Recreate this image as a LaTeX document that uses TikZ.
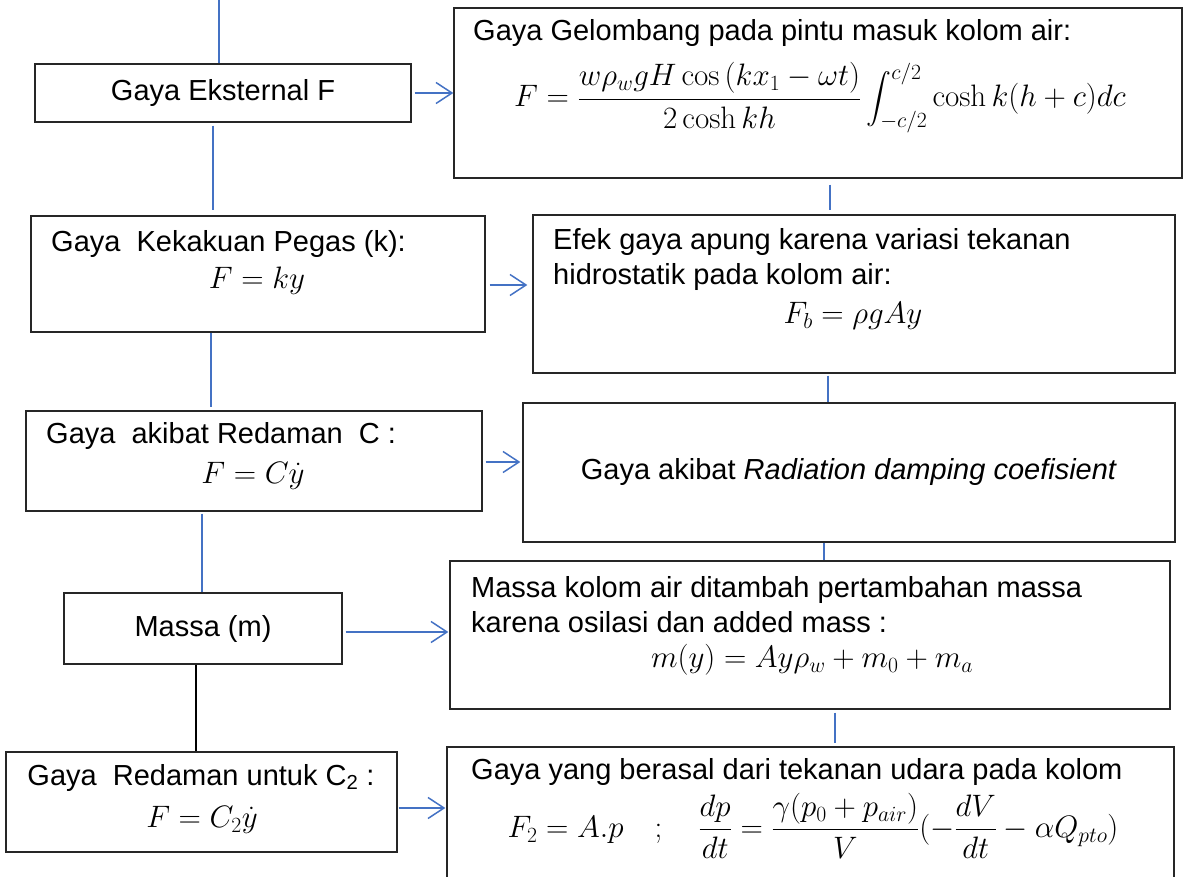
\RequirePackage{fix-cm}
\documentclass[tikz,border=0pt]{standalone}
\usepackage{amsmath}
\usepackage[no-math]{fontspec}
\setmainfont{Liberation Sans}
\usepackage{tikz}
\usetikzlibrary{arrows.meta}
\definecolor{garis}{RGB}{68,114,196}

\begin{document}
\begin{tikzpicture}[x=1pt,y=-1pt,
  every node/.style={inner sep=0pt,font=\fontsize{29}{35}\selectfont},
  rumus/.style={font=\fontsize{31}{37}\selectfont},
  kotak/.style={draw=black!85,line width=1.3pt},
  hub/.style={garis,line width=1.5pt},
  panah/.style={hub,-{Straight Barb[length=16pt,width=21pt]}}]
  \useasboundingbox (0,0) rectangle (1184,877);
  \clip (0,0) rectangle (1184,877);
  \node[kotak,minimum width=376pt,minimum height=58pt] (eks) at (223,93) {Gaya Eksternal F};
  \node[kotak,minimum width=728pt,minimum height=170pt] (gel) at (818,93) {};
  \node[anchor=west] (gelT) at (473,33) {Gaya Gelombang pada pintu masuk kolom air:};
  \node[rumus] (gelF) at (820,98) {$\displaystyle F=\frac{w\rho_w gH\cos{(kx_1-\omega t)}}{2\cosh kh}\int_{-c/2}^{c/2}\cosh k(h+c)dc$};
  \node[kotak,minimum width=454pt,minimum height=116pt] (pegas) at (258,274) {};
  \node[anchor=west] (pegasT) at (51,244) {Gaya\ \ Kekakuan Pegas (k):};
  \node[rumus] (pegasF) at (257,281) {$F=ky$};
  \node[kotak,minimum width=642pt,minimum height=158pt] (apung) at (854,294) {};
  \node[anchor=west,align=left] (apungT) at (553,260) {Efek gaya apung karena variasi tekanan\\hidrostatik pada kolom air:};
  \node[rumus] (apungF) at (853,316) {$F_b=\rho gAy$};
  \node[kotak,minimum width=456pt,minimum height=100pt] (redam) at (254,461) {};
  \node[anchor=west] (redamT) at (46,436) {Gaya\ \ akibat Redaman\ \ C :};
  \node[rumus] (redamF) at (253,476) {$F=C\dot{y}$};
  \node[kotak,minimum width=652pt,minimum height=139pt] (rad) at (849,472.5) {Gaya akibat \textit{Radiation damping coefisient}};
  \node[kotak,minimum width=278pt,minimum height=71pt] (massa) at (203,628.5) {Massa (m)};
  \node[kotak,minimum width=720pt,minimum height=148pt] (kolom) at (810,635) {};
  \node[anchor=west,align=left] (kolomT) at (471,604.5) {Massa kolom air ditambah pertambahan massa\\karena osilasi dan added mass :};
  \node[rumus] (kolomF) at (812,660) {$m(y)=Ay\rho_w+m_0+m_a$};
  \node[kotak,minimum width=391pt,minimum height=100pt] (redam2) at (201.5,802) {};
  \node (redam2T) at (201,778) {Gaya\ \ Redaman untuk C\textsubscript{2} :};
  \node[rumus] (redam2F) at (202,820) {$F=C_2\dot{y}$};
  \node[kotak,minimum width=727pt,minimum height=153pt] (udara) at (810.5,823.5) {};
  \node[anchor=west] (udaraT) at (471,772) {Gaya yang berasal dari tekanan udara pada kolom};
  \node[rumus] (udaraF) at (813,826) {$\displaystyle F_2=A.p\quad;\quad\frac{dp}{dt}=\frac{\gamma(p_0+p_{air})}{V}(-\frac{dV}{dt}-\alpha Q_{pto})$};
  \coordinate (awal) at (219,0);
  \draw[hub] (awal) -- (awal |- eks.north);
  \draw[hub] ([xshift=-10pt,yshift=-3pt]eks.south) -- ([xshift=-45pt,yshift=5pt]pegas.north);
  \draw[hub] ([xshift=-47pt]pegas.south) -- ([xshift=-43pt,yshift=3pt]redam.north);
  \draw[hub] ([xshift=-52pt,yshift=-2pt]redam.south) -- ([xshift=-1pt]massa.north);
  \draw[line width=1.5pt] ([xshift=-7pt]massa.south) -- ([xshift=-5.5pt]redam2.north);
  \draw[hub] ([xshift=12pt,yshift=-6pt]gel.south) -- ([xshift=-24pt,yshift=4pt]apung.north);
  \draw[hub] ([xshift=-26pt,yshift=-2pt]apung.south) -- ([xshift=-21pt]rad.north);
  \draw[hub] ([xshift=-25pt]rad.south) -- ([xshift=14pt]kolom.north);
  \draw[hub] ([xshift=25pt,yshift=-3pt]kolom.south) -- ([xshift=24.5pt,yshift=3pt]udara.north);
  \draw[panah] ([xshift=3pt]eks.east) -- (gel.west);
  \draw[panah] ([xshift=4pt,yshift=-11pt]pegas.east) -- ([xshift=-5pt,yshift=9pt]apung.west);
  \draw[panah] ([xshift=3pt,yshift=-1pt]redam.east) -- ([xshift=-2pt,yshift=10.5pt]rad.west);
  \draw[panah] ([xshift=3pt,yshift=-3.5pt]massa.east) -- ([xshift=-1pt,yshift=3pt]kolom.west);
  \draw[panah] ([xshift=1pt,yshift=-6pt]redam2.east) -- ([xshift=-1pt,yshift=15.5pt]udara.west);
\end{tikzpicture}
\end{document}
